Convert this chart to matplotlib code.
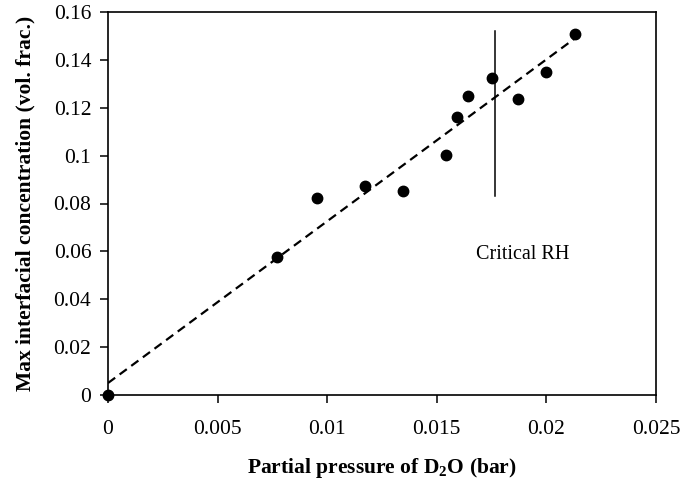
import matplotlib
matplotlib.use("Agg")
import matplotlib.pyplot as plt

# Data
pressure = [0.0, 0.00771, 0.00953, 0.01172, 0.01346, 0.01542, 0.01592,
            0.01642, 0.01752, 0.01870, 0.01998, 0.02130]
concentration = [0.0, 0.0576, 0.0823, 0.0873, 0.0852, 0.1002, 0.1161,
                 0.1249, 0.1324, 0.1236, 0.1349, 0.1508]

# Linear trend line (intercept, slope) and its x-extent
fit_intercept = 0.005
fit_slope = 6.76
fit_x = [0.0, 0.0213]

# Critical RH marker line
critical_x = 0.01765
critical_y = [0.0831, 0.1522]
critical_label = "Critical RH"
critical_label_pos = (0.0189, 0.0585)

xticks = [0, 0.005, 0.01, 0.015, 0.02, 0.025]
xtick_labels = ["0", "0.005", "0.01", "0.015", "0.02", "0.025"]
yticks = [0, 0.02, 0.04, 0.06, 0.08, 0.1, 0.12, 0.14, 0.16]
ytick_labels = ["0", "0.02", "0.04", "0.06", "0.08", "0.1", "0.12", "0.14", "0.16"]

plt.rcParams['font.family'] = ['Liberation Serif', 'DejaVu Serif']
plt.rcParams['mathtext.fontset'] = 'custom'
plt.rcParams['mathtext.rm'] = 'Liberation Serif'
plt.rcParams['mathtext.bf'] = 'Liberation Serif:bold'

fig = plt.figure(figsize=(6.81, 4.82), dpi=100)
ax = fig.add_axes([108/681, 1 - 395/482, (656-108)/681, (395-12)/482])

fit_y = [fit_intercept + fit_slope * x for x in fit_x]
ax.plot(fit_x, fit_y, color='black', linestyle=(0, (4, 2.5)), linewidth=1.6, zorder=2)
ax.plot(pressure, concentration, 'o', color='black', markersize=7.5, zorder=3,
        clip_on=False)
ax.plot([critical_x, critical_x], critical_y, color='black', linewidth=1.1)
ax.text(critical_label_pos[0], critical_label_pos[1], critical_label,
        ha='center', va='center', fontsize=14.5)

ax.set_xlim(0, 0.025)
ax.set_ylim(0, 0.16)
ax.set_xticks(xticks)
ax.set_xticklabels(xtick_labels)
ax.set_yticks(yticks)
ax.set_yticklabels(ytick_labels)
ax.tick_params(axis='both', direction='out', length=6, width=1.1, labelsize=15.5,
               top=False, right=False)
ax.tick_params(axis='x', pad=12)
ax.tick_params(axis='y', pad=6)
for s in ax.spines.values():
    s.set_linewidth(1.2)

ax.set_xlabel(r"Partial pressure of D$_\mathbf{2}$O (bar)", fontsize=15.5,
              fontweight='bold', labelpad=12)
ax.set_ylabel("Max interfacial concentration (vol. frac.)", fontsize=15.5,
              fontweight='bold', labelpad=13)

fig.savefig("out.png", dpi=100)
